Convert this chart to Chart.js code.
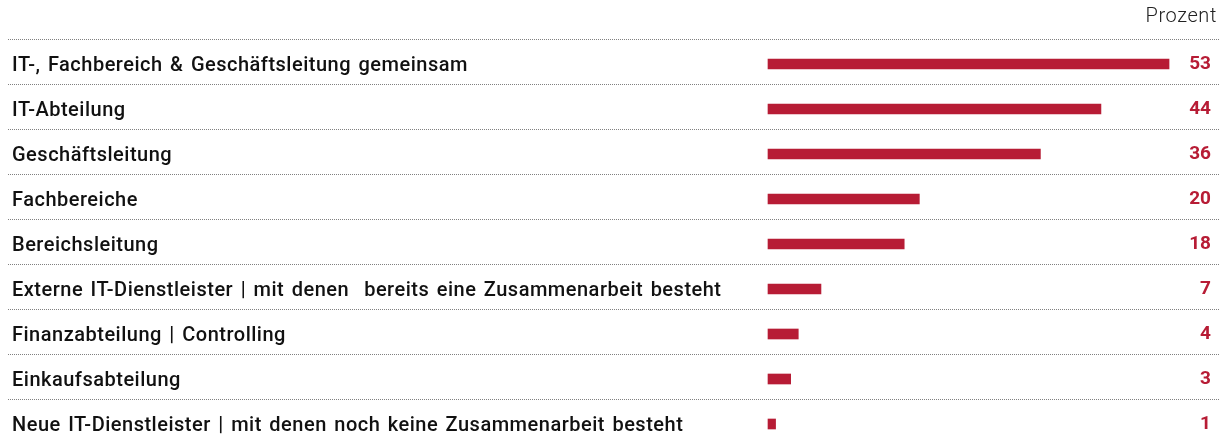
<!DOCTYPE html>
<html lang="de">
<head>
<meta charset="utf-8">
<title>Prozent</title>
<script src="https://cdn.jsdelivr.net/npm/chart.js@4.4.1/dist/chart.umd.min.js"></script>
<style>
    html, body { margin: 0; padding: 0; background: #fff; overflow: hidden; }
    #wrap { position: relative; width: 1229px; height: 443px; }
</style>
</head>
<body>
<div id="wrap"><canvas id="chart"></canvas></div>
<script>
// Daten
const categories = [
    'IT-, Fachbereich & Geschäftsleitung gemeinsam',
    'IT-Abteilung',
    'Geschäftsleitung',
    'Fachbereiche',
    'Bereichsleitung',
    'Externe IT-Dienstleister | mit denen  bereits eine Zusammenarbeit besteht',
    'Finanzabteilung | Controlling',
    'Einkaufsabteilung',
    'Neue IT-Dienstleister | mit denen noch keine Zusammenarbeit besteht'
];
const values = [53, 44, 36, 20, 18, 7, 4, 3, 1];
const unitLabel = 'Prozent';

const RED = '#b71c35';
const FONT = 'Roboto, "Liberation Sans", sans-serif';

// Trennlinien, Werte und Einheit
const decorations = {
    id: 'decorations',
    beforeDraw(chart) {
        // etwas breitere Laufweite wie im Original
        chart.ctx.letterSpacing = '0.5px';
        chart.ctx.wordSpacing = '2px';
    },
    beforeDatasetsDraw(chart) {
        const ctx = chart.ctx;
        const y = chart.scales.y;
        const step = y.getPixelForValue(1) - y.getPixelForValue(0);
        ctx.save();
        ctx.strokeStyle = '#808080';
        ctx.lineWidth = 1;
        ctx.setLineDash([1, 1]);
        categories.forEach((c, i) => {
            const yy = Math.round(y.getPixelForValue(i) - step * 0.565) + 0.5;
            ctx.beginPath();
            ctx.moveTo(8, yy);
            ctx.lineTo(1219, yy);
            ctx.stroke();
        });
        ctx.restore();
    },
    afterDatasetsDraw(chart) {
        const ctx = chart.ctx;
        const y = chart.scales.y;
        ctx.save();
        ctx.letterSpacing = '0px';
        ctx.wordSpacing = '0px';
        ctx.textAlign = 'right';
        ctx.textBaseline = 'middle';
        ctx.fillStyle = RED;
        ctx.font = 'bold 19px ' + FONT;
        values.forEach((v, i) => {
            ctx.fillText(String(v), 1211, y.getPixelForValue(i) + 0.5);
        });
        ctx.fillStyle = '#222';
        ctx.letterSpacing = '0.6px';
        ctx.font = '300 20px ' + FONT;
        ctx.fillText(unitLabel, 1217, 17);
        ctx.restore();
    }
};

new Chart(document.getElementById('chart'), {
    type: 'bar',
    data: {
        labels: categories,
        datasets: [{
            data: values,
            backgroundColor: RED,
            barThickness: 10,
            borderWidth: 0,
            clip: false
        }]
    },
    options: {
        indexAxis: 'y',
        responsive: true,
        maintainAspectRatio: false,
        animation: false,
        layout: { padding: { left: 12, right: 7, top: 64, bottom: 19 } },
        plugins: {
            legend: { display: false },
            tooltip: { enabled: false }
        },
        scales: {
            x: {
                display: false,
                min: 0,
                max: 60
            },
            y: {
                offset: false,
                border: { display: false },
                grid: { display: false, drawTicks: false },
                afterFit(scale) { scale.width = 756; },
                ticks: {
                    crossAlign: 'far',
                    labelOffset: 1.5,
                    color: '#111',
                    font: { family: FONT, size: 20, weight: '500' }
                }
            }
        }
    },
    plugins: [decorations]
});
</script>
</body>
</html>
